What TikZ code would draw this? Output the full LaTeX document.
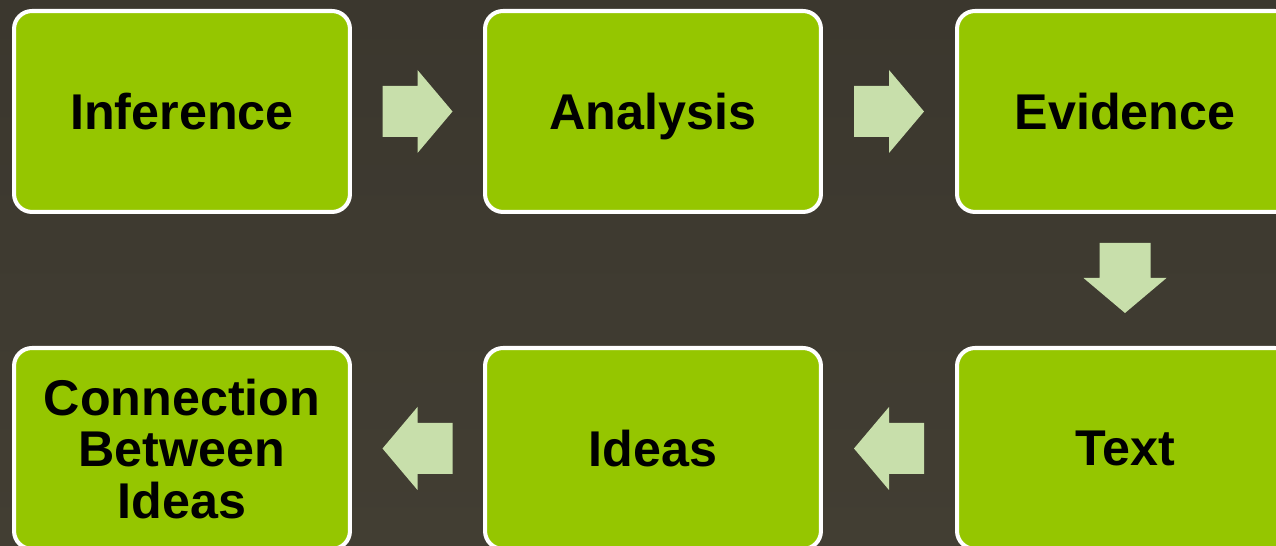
\documentclass[tikz,border=0pt]{standalone}
\usepackage{fontspec}
\setmainfont{Liberation Sans}
\definecolor{slidebg}{RGB}{59, 55, 46}
\definecolor{slidebglow}{RGB}{66, 62, 51}
\definecolor{leafgreen}{RGB}{149, 198, 0}
\definecolor{palegreen}{RGB}{200, 223, 171}
\usetikzlibrary{calc, positioning}

\begin{document}
\begin{tikzpicture}[
  x=0.02cm, y=-0.02cm,
  stage/.style={draw=white, line width=2.3pt, fill=leafgreen, rounded corners=0.36cm,
    minimum width=6.72cm, minimum height=4.02cm, align=center, inner sep=0pt,
    text depth=0pt, font=\fontsize{28.6}{29.2}\selectfont\bfseries}
]
  \fill[top color=slidebg, bottom color=slidebglow] (0,0) rectangle (1276,546);
  \useasboundingbox (0,0) rectangle (1276,546);

  \node[stage] (inf) at (182, 111.5) {Inference};
  \node[stage] (ana) at (653, 111.5) {Analysis};
  \node[stage] (evi) at (1125, 111.5) {Evidence};
  \node[stage] (txt) at (1125, 448.5) {Text};
  \node[stage] (ide) at (653, 448.5) {Ideas};
  \node[stage] (con) at (182, 448.5) {Connection\\Between\\Ideas};

  % block arrows between the stages
  \coordinate (a1) at ($(inf.east)!0.5!(ana.west)$);
  \coordinate (a2) at ($(ana.east)!0.5!(evi.west)$);
  \coordinate (a3) at ($(evi.south)!0.5!(txt.north) + (0,-2)$);
  \coordinate (a4) at ($(txt.west)!0.5!(ide.east)$);
  \coordinate (a5) at ($(ide.west)!0.5!(con.east)$);
  \foreach \c/\r in {a1/0, a2/0, a3/-90, a4/180, a5/180}
    \fill[palegreen, shift={(\c)}, rotate=\r]
      (-35,-25.5) -- (0,-25.5) -- (0,-41.5) -- (35,0) -- (0,41.5) -- (0,25.5) -- (-35,25.5) -- cycle;
\end{tikzpicture}
\end{document}
